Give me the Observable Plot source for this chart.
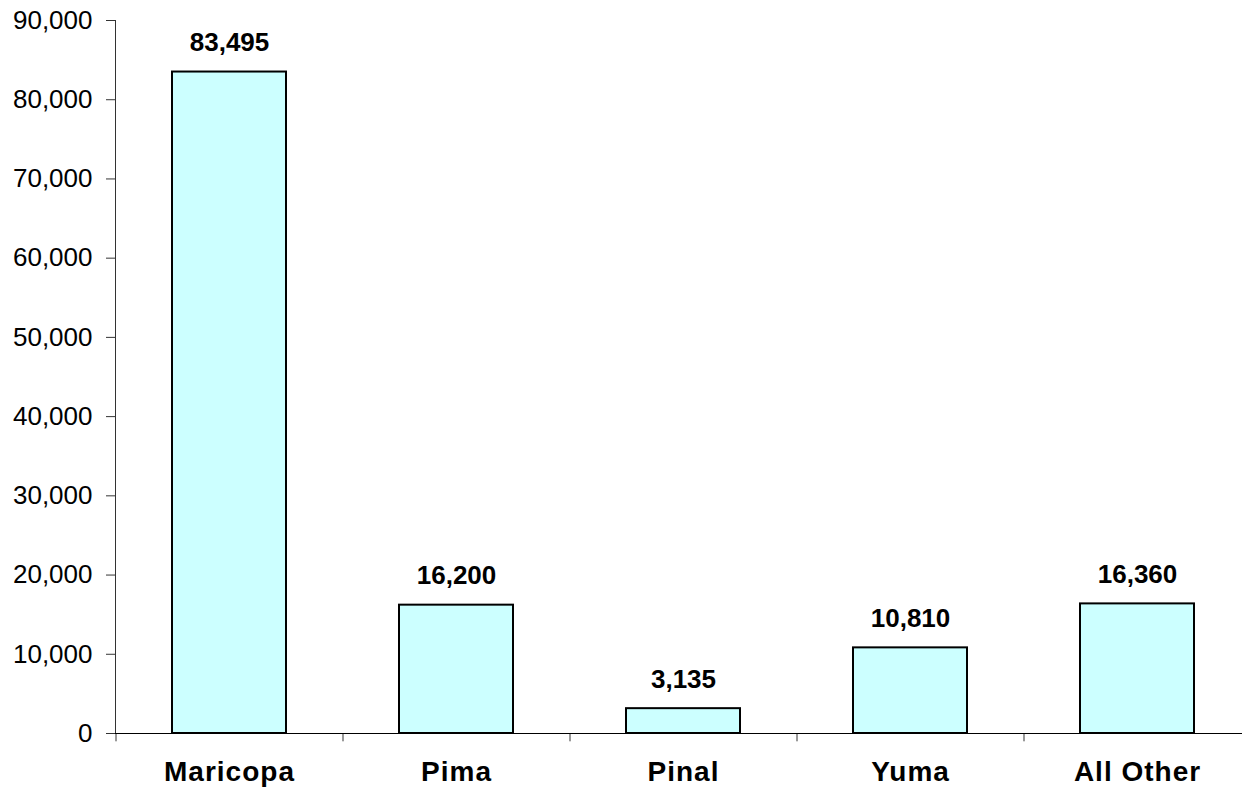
<!DOCTYPE html>
<html>
<head>
<meta charset="utf-8">
<script src="https://cdn.jsdelivr.net/npm/d3@7"></script>
<script src="https://cdn.jsdelivr.net/npm/@observablehq/plot@0.6"></script>
<style>
  html, body { margin: 0; padding: 0; background: #fff; }
  #chart svg { display: block; }
  #chart g[aria-label="x-axis tick label"] text { letter-spacing: 1px; }
</style>
</head>
<body>
<div id="chart"></div>
<script>
const categories = ["Maricopa", "Pima", "Pinal", "Yuma", "All Other"];
const values = [83495, 16200, 3135, 10810, 16360];
const yTicks = [0, 10000, 20000, 30000, 40000, 50000, 60000, 70000, 80000, 90000];

const data = categories.map((c, i) => ({category: c, value: values[i]}));
const fmt = d3.format(",");

const chart = Plot.plot({
  width: 1242,
  height: 792,
  marginLeft: 115,
  marginRight: 0,
  marginTop: 20,
  marginBottom: 59,
  style: {fontFamily: "'Liberation Sans', Arial, sans-serif", fontSize: "26px", color: "#000", background: "#fff"},
  x: {domain: categories, range: [115, 1250], paddingInner: 0.5, paddingOuter: 0.25, axis: null, label: null},
  y: {domain: [0, 90000], axis: null, label: null},
  marks: [
    Plot.frame({anchor: "left", stroke: "#000", strokeOpacity: 0.8}),
    Plot.barY(data, {x: "category", y: "value", fill: "#CCFFFF", stroke: "#000", strokeWidth: 2}),
    Plot.ruleY([0], {stroke: "#000", strokeWidth: 1.2}),
    Plot.ruleX(categories, {x: d => d, dx: -113.5, y1: 0, y2: -1050, stroke: "#000", strokeOpacity: 0.8}),
    Plot.axisY({ticks: yTicks, tickSize: 9, tickPadding: 14, tickFormat: fmt, fontSize: 26, label: null, stroke: "#000", strokeOpacity: 0.8}),
    Plot.axisX({tickSize: 0, tickPadding: 28, fontSize: 28, fontWeight: "bold", label: null}),
    Plot.text(data, {x: "category", y: "value", text: d => fmt(d.value), dy: -29, fontSize: 26, fontWeight: "bold"})
  ]
});
document.getElementById("chart").appendChild(chart);
</script>
</body>
</html>
